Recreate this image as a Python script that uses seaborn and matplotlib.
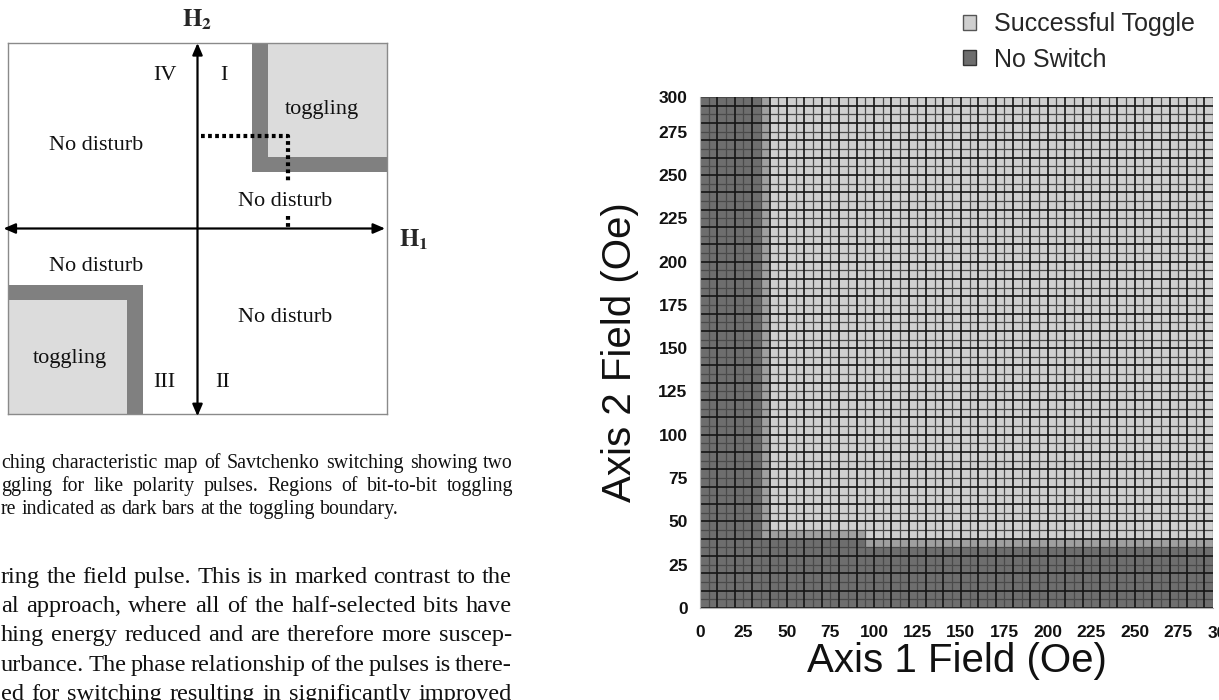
import numpy as np
import pandas as pd
import seaborn as sns
import matplotlib.pyplot as plt
from matplotlib.colors import ListedColormap
from matplotlib.patches import Patch, Rectangle

# -----------------------------
# Switching map data (Oe)
# -----------------------------
axis1_field = list(range(0, 295, 5))     # cell start, 5 Oe steps
axis2_field = list(range(0, 295, 5))

toggle_axis1 = 40            # lowest axis-1 field that toggles
toggle_axis2 = [45, 40]      # lowest axis-2 field, below / above the step
step_axis1 = 95              # axis-1 field where the axis-2 threshold drops
band = 5                     # shaded transition band at the boundary

state_names = ["No Switch", "Successful Toggle"]
x_tick_vals = [0, 25, 50, 75, 100, 125, 150, 175, 200, 225, 250, 275]
y_tick_vals = [0, 25, 50, 75, 100, 125, 150, 175, 200, 225, 250, 275]

# schematic (H units, box is -1..1)
toggle_outer = [0.29, 0.307]
toggle_inner = [0.37, 0.383]
dotted_path = [[0.02, 0.48, 0.48], [0.50, 0.50, 0.253]]
dotted_tail = [[0.48, 0.48], [0.065, 0.0]]

caption = ["ching characteristic map of Savtchenko switching showing two",
           "ggling for like polarity pulses. Regions of bit-to-bit toggling",
           "re indicated as dark bars at the toggling boundary."]
body = ["ring the field pulse. This is in marked contrast to the",
        "al approach, where all of the half-selected bits have",
        "hing energy reduced and are therefore more suscep-",
        "urbance. The phase relationship of the pulses is there-",
        "ed for switching resulting in significantly improved"]

# -----------------------------
# Build the state table
# -----------------------------
rows = []
for h2 in axis2_field:
    row = []
    for h1 in axis1_field:
        thr = toggle_axis2[0] if h1 < step_axis1 else toggle_axis2[1]
        if h1 >= toggle_axis1 and h2 >= thr:
            row.append(1.0)
        elif h1 >= toggle_axis1 - band and h2 >= thr - band:
            row.append(0.5)
        else:
            row.append(0.0)
    rows.append(row)
state = pd.DataFrame(rows, index=axis2_field, columns=axis1_field)

# -----------------------------
# Figure
# -----------------------------
sns.set_style("white")
plt.rcParams["font.family"] = ["Liberation Sans", "DejaVu Sans"]
plt.rcParams["mathtext.fontset"] = "stix"
serif = ["Liberation Serif", "DejaVu Serif"]

W, H = 1219, 700
fig = plt.figure(figsize=(W / 100, H / 100), dpi=100)

def fx(px):
    return px / W

def fy(py):
    return 1 - py / H

# -----------------------------
# Left: schematic
# -----------------------------
dg = fig.add_axes([fx(8), fy(414), fx(379), 371 / H])
dg.set_xlim(-1, 1)
dg.set_ylim(-1, 1)
dg.set_xticks([])
dg.set_yticks([])
for s in dg.spines.values():
    s.set_color("#8a8a8a")
    s.set_linewidth(1)

dark_bar, light_fill = "#808080", "#dcdcdc"
dg.add_patch(Rectangle((toggle_outer[0], toggle_outer[1]), 1 - toggle_outer[0], 1 - toggle_outer[1], fc=dark_bar, lw=0))
dg.add_patch(Rectangle((toggle_inner[0], toggle_inner[1]), 1 - toggle_inner[0], 1 - toggle_inner[1], fc=light_fill, lw=0))
dg.add_patch(Rectangle((-1, -1), 1 - toggle_outer[0], 1 - toggle_outer[1], fc=dark_bar, lw=0))
dg.add_patch(Rectangle((-1, -1), 1 - toggle_inner[0], 1 - toggle_inner[1], fc=light_fill, lw=0))

dg.plot(dotted_path[0], dotted_path[1], color="k", lw=3, ls=(0, (0.9, 0.8)), solid_capstyle="butt")
dg.plot(dotted_tail[0], dotted_tail[1], color="k", lw=3, ls=(0, (0.9, 0.8)))

arrow = dict(arrowstyle="<|-|>,head_length=0.7,head_width=0.3", lw=1.6, color="k", shrinkA=0, shrinkB=0)
dg.annotate("", xy=(0.99, 0), xytext=(-1.024, 0), arrowprops=arrow, annotation_clip=False)
dg.annotate("", xy=(0, 1.0), xytext=(0, -1.012), arrowprops=arrow, annotation_clip=False)

lab = dict(family=serif, fontsize=16, color="#111", ha="center", va="center")
dg.text(-0.174, 0.825, "IV", **lab)
dg.text(0.14, 0.825, "I", **lab)
dg.text(-0.174, -0.83, "III", **lab)
dg.text(0.132, -0.83, "II", **lab)
dg.text(0.654, 0.64, "toggling", **lab)
dg.text(-0.675, -0.70, "toggling", **lab)
dg.text(-0.533, 0.447, "No disturb", **lab)
dg.text(0.464, 0.146, "No disturb", **lab)
dg.text(-0.533, -0.205, "No disturb", **lab)
dg.text(0.464, -0.48, "No disturb", **lab)
dg.text(0.0, 1.125, r"$\mathbf{H}_{\mathbf{2}}$", fontsize=18, ha="center", va="center", clip_on=False)
dg.text(1.14, -0.06, r"$\mathbf{H}_{\mathbf{1}}$", fontsize=18, ha="center", va="center", clip_on=False)

# -----------------------------
# Left: caption and body text (justified, baseline aligned)
# -----------------------------
renderer = fig.canvas.get_renderer()

def put_line(line, base, size, right, justify=True):
    words = line.split(" ")
    objs = [fig.text(0, fy(base), w, family=serif, fontsize=size, color="#111", va="baseline") for w in words]
    widths = [o.get_window_extent(renderer).width for o in objs]
    space = size * 100 / 72 * 0.25
    gap = (right - 1 - sum(widths)) / (len(words) - 1) if justify else space
    x = 1
    for o, w in zip(objs, widths):
        o.set_x(fx(x))
        x += w + gap

for i, line in enumerate(caption):
    put_line(line, 468 + 23 * i, 14.3, 513, justify=(i < len(caption) - 1))
for i, line in enumerate(body):
    put_line(line, 583 + 29.2 * i, 17.6, 512)

# -----------------------------
# Right: switching map heatmap
# -----------------------------
ax = fig.add_axes([fx(700), fy(608), fx(513), 511 / H])
cmap = ListedColormap(["#6e6e6e", "#a0a0a0", "#cfcfcf"])
sns.heatmap(state, ax=ax, cmap=cmap, vmin=0, vmax=1, cbar=False,
            linewidths=0, xticklabels=False, yticklabels=False)
ax.invert_yaxis()
n = len(axis1_field)
grid_odd = np.arange(1, n + 1, 2)
grid_even = np.arange(0, n + 1, 2)
ax.vlines(grid_odd, 0, n, color="#4a4a4a", lw=0.9)
ax.hlines(grid_odd, 0, n, color="#4a4a4a", lw=0.9)
ax.vlines(grid_even, 0, n, color="#151515", lw=1.2)
ax.hlines(grid_even, 0, n, color="#151515", lw=1.2)

tick_font = dict(family="Liberation Sans", fontsize=12.5, fontweight="bold", color="#111")
ax.set_xticks([v / 5 for v in x_tick_vals])
ax.set_xticklabels([str(v) for v in x_tick_vals], **tick_font)
ax.set_yticks([v / 5 for v in y_tick_vals] + [n])
ax.set_yticklabels([str(v) for v in y_tick_vals] + ["300"], **tick_font)
ax.tick_params(axis="x", length=0, pad=12)
ax.tick_params(axis="y", length=0, pad=9)
ax.set_xticks(np.arange(0, n + 1, 2), minor=True)
ax.tick_params(axis="x", which="minor", length=6, color="#9a9a9a", width=1, direction="out")
ax.text(60, -2.9, "300", ha="center", va="center", clip_on=False, **tick_font)
for side in ["left", "bottom"]:
    ax.spines[side].set_visible(True)
    ax.spines[side].set_color("#b0b0b0")

ax.set_xlabel("Axis 1 Field (Oe)", fontsize=29, labelpad=2, color="#111")
ax.set_ylabel("Axis 2 Field (Oe)", fontsize=29, labelpad=14, color="#111")

handles = [Patch(facecolor="#cfcfcf", edgecolor="#555555", label=state_names[1]),
           Patch(facecolor="#6e6e6e", edgecolor="#333333", label=state_names[0])]
fig.legend(handles=handles, loc="upper left", bbox_to_anchor=(fx(940), fy(-10)), frameon=False,
           fontsize=18, handlelength=0.55, handleheight=0.55, handletextpad=0.7, labelspacing=0.45)

fig.savefig("out.png", dpi=100)
